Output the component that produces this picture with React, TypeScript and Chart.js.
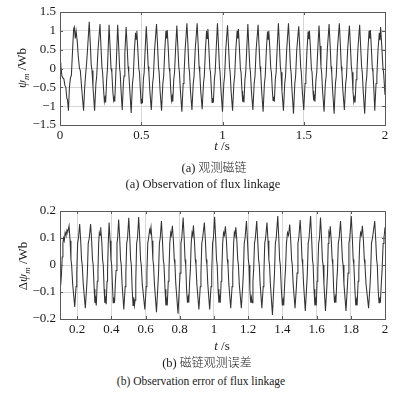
import React, { useEffect, useRef } from "react";
import { Chart, registerables } from "chart.js";

Chart.register(...registerables);

// ---------- data ----------
// (a) observed flux linkage, [t (s), psi (Wb)]
const fluxObserved: [number, number][] = [
  [0, 0.15], [0.005, 0.08], [0.012, -0.2], [0.018, -0.25], [0.024, -0.28], [0.03, -0.45], [0.036, -0.5], [0.042, -0.8], [0.046, -0.82], [0.052, -1.12],
  [0.058, -0.5], [0.064, -0.25], [0.07, -0.18], [0.077, 0.45], [0.084, 1.05], [0.088, 1.1], [0.094, 0.8], [0.099, 1.0], [0.106, 0.72], [0.113, 0.3],
  [0.12, 0.0], [0.125, -0.05], [0.133, -0.5], [0.145, -1.12], [0.152, -0.5], [0.157, -0.2], [0.163, 0.1], [0.17, 0.55], [0.18, 1.24],
  [0.186, 0.7], [0.192, 0.1], [0.197, -0.05], [0.203, -0.5], [0.213, -1.12], [0.221, -0.4], [0.226, -0.2], [0.234, 0.5], [0.246, 1.18],
  [0.252, 0.6], [0.258, 0.05], [0.262, -0.1], [0.268, -0.55], [0.273, -0.88], [0.277, -0.78], [0.281, -0.9], [0.287, -0.3], [0.292, 0.0], [0.302, 1.16],
  [0.308, 0.6], [0.314, 0.0], [0.319, -0.1], [0.325, -0.6], [0.33, -0.85], [0.334, -0.78], [0.337, -0.88], [0.343, -0.2], [0.347, 0.2], [0.355, 1.16],
  [0.361, 0.6], [0.367, 0.0], [0.37, -0.1], [0.376, -0.6], [0.383, -1.1], [0.39, -0.4], [0.394, -0.2], [0.399, 0.4], [0.407, 1.1],
  [0.413, 0.6], [0.419, 0.05], [0.423, -0.1], [0.43, -0.6], [0.438, -1.18], [0.446, -0.4], [0.451, -0.2], [0.458, 0.5], [0.465, 0.95], [0.469, 0.78], [0.473, 1.0],
  [0.479, 0.5], [0.485, 0.0], [0.489, -0.1], [0.495, -0.6], [0.499, -0.92], [0.503, -0.8], [0.507, -0.92], [0.513, -0.3], [0.518, -0.1], [0.524, 0.5], [0.531, 1.12],
  [0.537, 0.6], [0.543, 0.05], [0.547, -0.1], [0.553, -0.6], [0.562, -1.1], [0.57, -0.4], [0.575, -0.2], [0.582, 0.5], [0.594, 1.18],
  [0.6, 0.65], [0.606, 0.05], [0.61, -0.1], [0.616, -0.6], [0.625, -1.12], [0.633, -0.4], [0.638, -0.2], [0.645, 0.5], [0.652, 1.0], [0.656, 0.8], [0.66, 1.02],
  [0.666, 0.55], [0.672, 0.0], [0.676, -0.1], [0.682, -0.6], [0.686, -0.85], [0.69, -0.75], [0.694, -0.88], [0.7, -0.3], [0.705, -0.1], [0.711, 0.5], [0.719, 1.14],
  [0.725, 0.6], [0.731, 0.05], [0.735, -0.1], [0.741, -0.6], [0.75, -1.15], [0.758, -0.4], [0.763, -0.2], [0.77, 0.5], [0.781, 1.2],
  [0.787, 0.65], [0.793, 0.05], [0.797, -0.1], [0.803, -0.6], [0.812, -1.1], [0.82, -0.4], [0.825, -0.2], [0.832, 0.5], [0.844, 1.2],
  [0.85, 0.65], [0.856, 0.05], [0.86, -0.1], [0.866, -0.6], [0.875, -1.08], [0.883, -0.4], [0.888, -0.2], [0.895, 0.5], [0.902, 1.0], [0.906, 0.8], [0.91, 1.05],
  [0.916, 0.55], [0.922, 0.0], [0.926, -0.1], [0.932, -0.6], [0.936, -0.9], [0.94, -0.78], [0.944, -0.9], [0.95, -0.3], [0.955, -0.1], [0.961, 0.5], [0.969, 1.2],
  [0.975, 0.65], [0.981, 0.05], [0.985, -0.1], [0.991, -0.6], [1.0, -1.15], [1.008, -0.4], [1.013, -0.2], [1.02, 0.5], [1.031, 1.15],
  [1.037, 0.6], [1.043, 0.05], [1.047, -0.1], [1.053, -0.6], [1.062, -1.12], [1.07, -0.4], [1.075, -0.2], [1.082, 0.5], [1.09, 1.0], [1.094, 0.8], [1.098, 1.05],
  [1.104, 0.55], [1.11, 0.0], [1.114, -0.1], [1.12, -0.6], [1.124, -0.88], [1.128, -0.78], [1.132, -0.9], [1.138, -0.3], [1.143, -0.1], [1.149, 0.5], [1.156, 1.18],
  [1.162, 0.6], [1.168, 0.05], [1.172, -0.1], [1.178, -0.6], [1.187, -1.1], [1.195, -0.4], [1.2, -0.2], [1.207, 0.5], [1.219, 1.16],
  [1.225, 0.6], [1.231, 0.05], [1.235, -0.1], [1.241, -0.6], [1.25, -1.15], [1.258, -0.4], [1.263, -0.2], [1.27, 0.5], [1.277, 0.98], [1.281, 0.78], [1.285, 1.0],
  [1.291, 0.55], [1.297, 0.0], [1.301, -0.1], [1.307, -0.6], [1.311, -0.85], [1.315, -0.75], [1.319, -0.88], [1.325, -0.3], [1.33, -0.1], [1.336, 0.5], [1.344, 1.2],
  [1.35, 0.65], [1.356, 0.05], [1.36, -0.1], [1.366, -0.6], [1.375, -1.12], [1.383, -0.4], [1.388, -0.2], [1.395, 0.5], [1.406, 1.2],
  [1.412, 0.65], [1.418, 0.05], [1.422, -0.1], [1.428, -0.6], [1.437, -1.2], [1.445, -0.4], [1.45, -0.2], [1.457, 0.5], [1.469, 1.12],
  [1.475, 0.6], [1.481, 0.05], [1.485, -0.1], [1.491, -0.6], [1.5, -1.1], [1.508, -0.4], [1.513, -0.2], [1.52, 0.5], [1.527, 0.98], [1.531, 0.78], [1.535, 1.0],
  [1.541, 0.55], [1.547, 0.0], [1.551, -0.1], [1.557, -0.6], [1.561, -0.85], [1.565, -0.75], [1.569, -0.88], [1.575, -0.3], [1.58, -0.1], [1.586, 0.5], [1.594, 1.14],
  [1.6, 0.6], [1.606, 0.05], [1.61, -0.1], [1.616, -0.6], [1.625, -1.15], [1.633, -0.4], [1.638, -0.2], [1.645, 0.5], [1.656, 1.18],
  [1.662, 0.65], [1.668, 0.05], [1.672, -0.1], [1.678, -0.6], [1.687, -1.2], [1.695, -0.4], [1.7, -0.2], [1.707, 0.5], [1.719, 1.2],
  [1.725, 0.65], [1.731, 0.05], [1.735, -0.1], [1.741, -0.6], [1.75, -1.1], [1.758, -0.4], [1.763, -0.2], [1.77, 0.5], [1.781, 1.14],
  [1.787, 0.6], [1.793, 0.05], [1.797, -0.1], [1.803, -0.6], [1.808, -0.88], [1.812, -0.78], [1.816, -0.9], [1.822, -0.3], [1.827, -0.1], [1.833, 0.5], [1.844, 1.16],
  [1.85, 0.6], [1.856, 0.05], [1.86, -0.1], [1.866, -0.6], [1.875, -1.2], [1.883, -0.4], [1.888, -0.2], [1.895, 0.5], [1.902, 1.0], [1.906, 0.8], [1.91, 1.02],
  [1.916, 0.55], [1.922, 0.0], [1.926, -0.1], [1.932, -0.6], [1.937, -1.12], [1.945, -0.4], [1.95, -0.2], [1.957, 0.5], [1.965, 0.95], [1.969, 0.75], [1.973, 1.1],
  [1.98, 0.6], [1.987, 0.05], [1.992, -0.15], [2.0, -0.7],
];

// (b) observation error of flux linkage, [t (s), delta psi (Wb)]
const fluxError: [number, number][] = [
  [0.1, -0.06], [0.104, -0.075], [0.108, -0.04], [0.113, 0.03], [0.117, 0.08], [0.121, 0.1], [0.125, 0.09], [0.13, 0.12], [0.135, 0.11], [0.141, 0.13], [0.146, 0.125], [0.153, 0.145],
  [0.159, 0.09], [0.164, 0.02], [0.168, 0.0], [0.174, -0.07], [0.186, -0.155], [0.194, -0.08], [0.198, -0.03], [0.203, 0.08], [0.208, 0.1], [0.215, 0.152],
  [0.221, 0.09], [0.226, 0.02], [0.23, 0.0], [0.236, -0.07], [0.248, -0.16], [0.256, -0.08], [0.26, -0.03], [0.265, 0.08], [0.271, 0.1], [0.279, 0.152],
  [0.285, 0.09], [0.29, 0.02], [0.294, 0.0], [0.3, -0.09], [0.304, -0.14], [0.308, -0.125], [0.312, -0.15], [0.318, -0.06], [0.322, -0.02], [0.326, 0.08], [0.33, 0.12], [0.334, 0.11], [0.338, 0.14],
  [0.344, 0.09], [0.349, 0.02], [0.353, 0.0], [0.358, -0.09], [0.362, -0.14], [0.366, -0.125], [0.37, -0.145], [0.375, -0.06], [0.378, -0.02], [0.382, 0.08], [0.387, 0.157],
  [0.393, 0.09], [0.398, 0.02], [0.402, 0.0], [0.407, -0.08], [0.411, -0.14], [0.415, -0.12], [0.419, -0.14], [0.424, -0.06], [0.428, -0.02], [0.433, 0.08], [0.437, 0.1], [0.443, 0.168],
  [0.449, 0.1], [0.454, 0.02], [0.458, 0.0], [0.463, -0.07], [0.473, -0.165], [0.481, -0.08], [0.485, -0.03], [0.49, 0.08], [0.495, 0.1], [0.502, 0.175],
  [0.508, 0.1], [0.513, 0.02], [0.517, 0.0], [0.522, -0.09], [0.527, -0.15], [0.531, -0.12], [0.535, -0.15], [0.539, -0.13], [0.543, -0.06], [0.548, 0.08], [0.553, 0.1], [0.56, 0.178],
  [0.566, 0.1], [0.571, 0.02], [0.575, 0.0], [0.581, -0.07], [0.596, -0.165], [0.604, -0.08], [0.608, -0.03], [0.613, 0.08], [0.618, 0.1], [0.624, 0.13], [0.628, 0.12], [0.632, 0.14],
  [0.638, 0.09], [0.643, 0.02], [0.647, 0.0], [0.652, -0.07], [0.664, -0.175], [0.672, -0.08], [0.676, -0.03], [0.681, 0.08], [0.686, 0.1], [0.693, 0.163],
  [0.699, 0.09], [0.704, 0.02], [0.708, 0.0], [0.714, -0.09], [0.719, -0.15], [0.723, -0.13], [0.727, -0.15], [0.733, -0.06], [0.737, -0.02], [0.742, 0.08], [0.747, 0.12], [0.751, 0.11], [0.757, 0.145],
  [0.763, 0.09], [0.768, 0.02], [0.772, 0.0], [0.777, -0.07], [0.79, -0.18], [0.798, -0.08], [0.802, -0.03], [0.807, 0.08], [0.812, 0.1], [0.82, 0.176],
  [0.826, 0.1], [0.831, 0.02], [0.835, 0.0], [0.84, -0.09], [0.845, -0.14], [0.849, -0.12], [0.853, -0.14], [0.858, -0.06], [0.862, -0.02], [0.867, 0.08], [0.872, 0.12], [0.876, 0.11], [0.88, 0.146],
  [0.886, 0.09], [0.891, 0.02], [0.895, 0.0], [0.9, -0.07], [0.912, -0.165], [0.92, -0.08], [0.924, -0.03], [0.929, 0.08], [0.934, 0.1], [0.944, 0.157],
  [0.95, 0.09], [0.955, 0.02], [0.959, 0.0], [0.964, -0.07], [0.975, -0.165], [0.983, -0.08], [0.987, -0.03], [0.992, 0.08], [0.997, 0.1], [1.004, 0.179],
  [1.01, 0.1], [1.015, 0.02], [1.019, 0.0], [1.024, -0.09], [1.029, -0.14], [1.033, -0.12], [1.037, -0.14], [1.042, -0.06], [1.046, -0.02], [1.051, 0.08], [1.056, 0.12], [1.061, 0.11], [1.067, 0.143],
  [1.073, 0.09], [1.078, 0.02], [1.082, 0.0], [1.087, -0.07], [1.098, -0.16], [1.106, -0.08], [1.11, -0.03], [1.115, 0.08], [1.119, 0.12], [1.123, 0.11], [1.128, 0.14],
  [1.134, 0.09], [1.139, 0.02], [1.143, 0.0], [1.148, -0.07], [1.16, -0.16], [1.168, -0.08], [1.172, -0.03], [1.177, 0.08], [1.182, 0.1], [1.19, 0.163],
  [1.196, 0.09], [1.201, 0.02], [1.205, 0.0], [1.21, -0.09], [1.215, -0.14], [1.219, -0.12], [1.223, -0.14], [1.228, -0.06], [1.232, -0.02], [1.237, 0.08], [1.242, 0.1], [1.25, 0.163],
  [1.256, 0.09], [1.261, 0.02], [1.265, 0.0], [1.27, -0.07], [1.28, -0.16], [1.288, -0.08], [1.292, -0.03], [1.297, 0.08], [1.302, 0.1], [1.31, 0.157],
  [1.316, 0.09], [1.321, 0.02], [1.325, 0.0], [1.33, -0.07], [1.342, -0.185], [1.35, -0.08], [1.354, -0.03], [1.359, 0.08], [1.364, 0.1], [1.373, 0.181],
  [1.379, 0.1], [1.384, 0.02], [1.388, 0.0], [1.394, -0.09], [1.4, -0.15], [1.404, -0.13], [1.408, -0.15], [1.414, -0.06], [1.418, -0.02], [1.424, 0.08], [1.43, 0.12], [1.436, 0.11], [1.443, 0.15],
  [1.449, 0.09], [1.454, 0.02], [1.458, 0.0], [1.463, -0.07], [1.474, -0.16], [1.482, -0.08], [1.486, -0.03], [1.491, 0.08], [1.496, 0.1], [1.504, 0.167],
  [1.51, 0.1], [1.515, 0.02], [1.519, 0.0], [1.524, -0.07], [1.534, -0.17], [1.542, -0.08], [1.546, -0.03], [1.551, 0.08], [1.556, 0.1], [1.565, 0.181],
  [1.571, 0.1], [1.576, 0.02], [1.58, 0.0], [1.585, -0.09], [1.59, -0.15], [1.594, -0.13], [1.598, -0.15], [1.603, -0.06], [1.607, -0.02], [1.612, 0.08], [1.617, 0.1], [1.623, 0.176],
  [1.629, 0.1], [1.634, 0.02], [1.638, 0.0], [1.643, -0.07], [1.652, -0.17], [1.66, -0.08], [1.664, -0.03], [1.668, 0.08], [1.672, 0.12], [1.676, 0.11], [1.68, 0.143],
  [1.686, 0.09], [1.691, 0.02], [1.695, 0.0], [1.7, -0.09], [1.705, -0.14], [1.709, -0.12], [1.713, -0.14], [1.718, -0.06], [1.722, -0.02], [1.727, 0.08], [1.732, 0.1], [1.74, 0.163],
  [1.746, 0.09], [1.751, 0.02], [1.755, 0.0], [1.76, -0.07], [1.772, -0.17], [1.78, -0.08], [1.784, -0.03], [1.789, 0.08], [1.794, 0.1], [1.803, 0.181],
  [1.809, 0.1], [1.814, 0.02], [1.818, 0.0], [1.824, -0.09], [1.829, -0.15], [1.833, -0.13], [1.837, -0.15], [1.843, -0.06], [1.847, -0.02], [1.852, 0.08], [1.857, 0.12], [1.862, 0.11], [1.868, 0.145],
  [1.874, 0.09], [1.879, 0.02], [1.883, 0.0], [1.889, -0.07], [1.904, -0.16], [1.912, -0.08], [1.916, -0.03], [1.921, 0.08], [1.927, 0.1], [1.94, 0.163],
  [1.946, 0.09], [1.951, 0.02], [1.955, 0.0], [1.96, -0.09], [1.965, -0.14], [1.969, -0.12], [1.973, -0.14], [1.979, -0.06], [1.983, -0.02], [1.989, 0.08], [1.994, 0.1], [2.0, 0.14],
];

const topXTicks = [0, 0.5, 1, 1.5, 2];
const topYTicks = [-1.5, -1, -0.5, 0, 0.5, 1, 1.5];
const bottomXTicks = [0.2, 0.4, 0.6, 0.8, 1, 1.2, 1.4, 1.6, 1.8, 2];
const bottomYTicks = [-0.2, -0.1, 0, 0.1, 0.2];

const topXRange = [0, 2];
const topYRange = [-1.5, 1.5];
const bottomXRange = [0.1, 2];
const bottomYRange = [-0.2, 0.2];

// ---------- styling ----------
const SERIF = "'Liberation Serif', 'DejaVu Serif', serif";
const CJK = "'Noto Sans CJK SC', sans-serif";
const GRID = "#d6d6d6";
const FRAME = "#5a5a5a";
const LINE = "#333333";

const fmt = (v: number) => String(v).replace("-", "\u2212");

const framePlugin = {
  id: "frame",
  afterDraw(chart: any) {
    const { ctx, chartArea: a, scales } = chart;
    ctx.save();
    ctx.strokeStyle = FRAME;
    ctx.lineWidth = 1;
    ctx.strokeRect(Math.round(a.left) + 0.5, Math.round(a.top) + 0.5, Math.round(a.right - a.left), Math.round(a.bottom - a.top));
    ctx.beginPath();
    scales.x.ticks.forEach((t: any) => {
      const px = Math.round(scales.x.getPixelForValue(t.value)) + 0.5;
      ctx.moveTo(px, a.bottom);
      ctx.lineTo(px, a.bottom - 3);
      ctx.moveTo(px, a.top);
      ctx.lineTo(px, a.top + 3);
    });
    scales.y.ticks.forEach((t: any) => {
      const py = Math.round(scales.y.getPixelForValue(t.value)) + 0.5;
      ctx.moveTo(a.left, py);
      ctx.lineTo(a.left + 3, py);
      ctx.moveTo(a.right, py);
      ctx.lineTo(a.right - 3, py);
    });
    ctx.stroke();
    ctx.restore();
  },
};

function makeChart(
  canvas: HTMLCanvasElement,
  points: [number, number][],
  xRange: number[],
  yRange: number[],
  xTicks: number[],
  yTicks: number[]
) {
  return new Chart(canvas, {
    type: "line",
    data: {
      datasets: [
        {
          data: points.map(([x, y]) => ({ x, y })),
          borderColor: LINE,
          borderWidth: 1.05,
          pointRadius: 0,
          tension: 0,
          fill: false,
        },
      ],
    },
    options: {
      animation: false,
      responsive: false,
      events: [],
      layout: { padding: { left: 0, right: 21, top: 12, bottom: 0 } },
      plugins: { legend: { display: false }, tooltip: { enabled: false }, title: { display: false } },
      scales: {
        x: {
          type: "linear",
          min: xRange[0],
          max: xRange[1],
          afterBuildTicks: (s: any) => {
            s.ticks = xTicks.map((v) => ({ value: v }));
          },
          afterFit: (s: any) => {
            s.height = 20;
          },
          grid: { color: GRID, lineWidth: 1, drawTicks: false },
          border: { display: false },
          ticks: {
            padding: 3,
            color: "#1a1a1a",
            font: { family: SERIF, size: 13 },
            maxRotation: 0,
            autoSkip: false,
            callback: (v: any) => fmt(Number(v)),
          },
        },
        y: {
          type: "linear",
          min: yRange[0],
          max: yRange[1],
          afterBuildTicks: (s: any) => {
            s.ticks = yTicks.map((v) => ({ value: v }));
          },
          afterFit: (s: any) => {
            s.width = 60;
          },
          grid: { color: GRID, lineWidth: 1, drawTicks: false },
          border: { display: false },
          ticks: {
            padding: 4,
            color: "#1a1a1a",
            font: { family: SERIF, size: 13 },
            autoSkip: false,
            callback: (v: any) => fmt(Number(v)),
          },
        },
      },
    },
    plugins: [framePlugin],
  } as any);
}

const abs = (left: number, top: number, extra: React.CSSProperties = {}): React.CSSProperties => ({
  position: "absolute",
  left,
  top,
  transform: "translate(-50%, -50%)",
  whiteSpace: "nowrap",
  fontFamily: SERIF,
  color: "#1a1a1a",
  lineHeight: 1,
  ...extra,
});

export default function App() {
  const topRef = useRef<HTMLCanvasElement>(null);
  const botRef = useRef<HTMLCanvasElement>(null);

  useEffect(() => {
    const c1 = makeChart(topRef.current!, fluxObserved, topXRange, topYRange, topXTicks, topYTicks);
    const c2 = makeChart(botRef.current!, fluxError, bottomXRange, bottomYRange, bottomXTicks, bottomYTicks);
    let alive = true;
    const fonts: any = (document as any).fonts;
    if (fonts && fonts.load) {
      Promise.all([fonts.load("13px 'Liberation Serif'"), fonts.load("italic 13px 'Liberation Serif'")])
        .then(() => {
          if (alive) {
            c1.update();
            c2.update();
          }
        })
        .catch(() => {});
    }
    return () => {
      alive = false;
      c1.destroy();
      c2.destroy();
    };
  }, []);

  return (
    <div style={{ position: "absolute", left: 0, top: 0, width: 406, height: 393, background: "#fff", overflow: "hidden" }}>
      <canvas ref={topRef} width={406} height={145} style={{ position: "absolute", left: 0, top: 0, width: 406, height: 145 }} />
      <canvas ref={botRef} width={406} height={140} style={{ position: "absolute", left: 0, top: 199, width: 406, height: 140 }} />

      {/* y axis titles */}
      <div style={abs(23, 68, { fontSize: 13, transform: "translate(-50%, -50%) rotate(-90deg)" })}>
        <i>ψ</i>
        <sub style={{ fontSize: 9, fontStyle: "italic" }}>m</sub> /Wb
      </div>
      <div style={abs(24, 266, { fontSize: 13, transform: "translate(-50%, -50%) rotate(-90deg)" })}>
        Δ<i>ψ</i>
        <sub style={{ fontSize: 9, fontStyle: "italic" }}>m</sub> /Wb
      </div>

      {/* x axis titles */}
      <div style={abs(222, 145, { fontSize: 13 })}>
        <i>t</i> /s
      </div>
      <div style={abs(222, 345, { fontSize: 13 })}>
        <i>t</i> /s
      </div>

      {/* captions */}
      <div style={abs(214, 168, { fontSize: 12.5 })}>
        (a) <span style={{ fontFamily: CJK, fontSize: 12, fontWeight: 300 }}>观测磁链</span>
      </div>
      <div style={abs(203, 184, { fontSize: 12.5 })}>(a) Observation of flux linkage</div>
      <div style={abs(207, 363, { fontSize: 12.5 })}>
        (b) <span style={{ fontFamily: CJK, fontSize: 12, fontWeight: 300 }}>磁链观测误差</span>
      </div>
      <div style={abs(201, 382, { fontSize: 11.5 })}>(b) Observation error of flux linkage</div>
    </div>
  );
}
